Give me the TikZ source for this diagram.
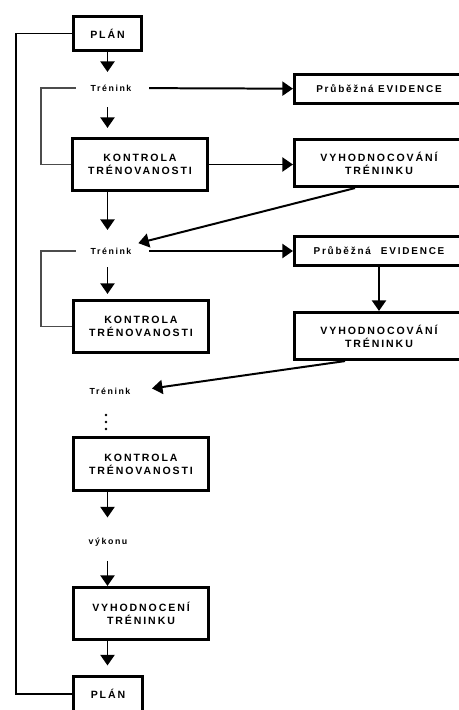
\documentclass[tikz,border=0pt]{standalone}
\usepackage{fontspec}
\setmainfont{Liberation Sans}[LetterSpace=18]
\usetikzlibrary{arrows.meta}

\begin{document}
\begin{tikzpicture}[x=0.03cm, y=-0.03cm,
  box/.style={draw, line width=2.4pt, fill=white, align=center, inner sep=0pt,
    font=\bfseries\fontsize{9}{11}\selectfont},
  planbox/.style={box, minimum width=2.05cm, minimum height=1.03cm},
  kontrbox/.style={box, minimum width=4.06cm, minimum height=1.57cm},
  evidbox/.style={box, minimum width=5.08cm, minimum height=0.88cm,
    font=\bfseries\fontsize{8.5}{10}\selectfont},
  vyhodbox/.style={box, minimum width=5.08cm, minimum height=1.42cm},
  txt/.style={inner sep=3pt, font=\bfseries\fontsize{7.5}{9}\selectfont},
  arr/.style={-{Triangle[width=12pt,length=9pt]}, line width=1.7pt},
  bracket/.style={line width=1.3pt, black!70}]
\useasboundingbox (0,0) rectangle (459,710);
\clip (0,0) rectangle (459,710);

\node[planbox] (plan1) at (107.5,33.5) {PLÁN};
\node[txt] (trenink1) at (111,88) {Trénink};
\node[evidbox] (evid1) at (379,89) {Průběžná EVIDENCE};
\node[kontrbox] (kontr1) at (140,164.5) {KONTROLA\\TRÉNOVANOSTI};
\node[vyhodbox] (vyhod1) at (379,163) {VYHODNOCOVÁNÍ\\TRÉNINKU};
\node[txt] (trenink2) at (111,251) {Trénink};
\node[evidbox] (evid2) at (379,251) {Průběžná\quad EVIDENCE};
\node[kontrbox] (kontr2) at (141,326.5) {KONTROLA\\TRÉNOVANOSTI};
\node[vyhodbox] (vyhod2) at (379,336) {VYHODNOCOVÁNÍ\\TRÉNINKU};
\node[txt] (trenink3) at (110,391) {Trénink};
\node[kontrbox] (kontr3) at (141,464) {KONTROLA\\TRÉNOVANOSTI};
\node[txt] (vykon) at (108,542) {výkonu};
\node[kontrbox] (vyhodnoc) at (141,613.5) {VYHODNOCENÍ\\TRÉNINKU};
\node[planbox] (plan2) at (108,694) {PLÁN};

\foreach \y in {415,422,429}
  \fill (106,\y) circle [radius=1.1pt];

\draw[line width=1.3pt] (plan1.west) -- ++(-56,0) |- (plan2.west);
\draw[bracket, shorten <=3.3mm] (trenink1.west) -- ++(-46,0) |- (kontr1.west);
\draw[bracket, shorten <=3.3mm] (trenink2.west) -- ++(-46,0) |- (kontr2.west);

\draw[arr, shorten >=2.7mm] (plan1) -- (trenink1.north -| plan1);
\draw[arr, shorten <=3.6mm, shorten >=2.7mm] (trenink1.south -| plan1) -- (kontr1.north -| plan1);
\draw[arr, shorten >=4.2mm] (kontr1.south -| plan1) -- (trenink2.north -| plan1);
\draw[arr, shorten <=2.7mm, shorten >=1.5mm] (trenink2.south -| plan1) -- (kontr2.north -| plan1);
\draw[arr, shorten >=5mm] (kontr3.south -| plan1) -- (vykon.north -| plan1);
\draw[arr, shorten <=3.3mm] (vykon.south -| plan1) -- (vyhodnoc.north -| plan1);
\draw[arr, shorten >=3mm] (vyhodnoc.south -| plan1) -- (plan2.north -| plan1);

\draw[arr, shorten <=4.2mm] (trenink1) -- (evid1);
\draw[arr] (kontr1.east) -- (vyhod1.west |- kontr1.east);
\draw[arr, shorten <=4.2mm] (trenink2) -- (evid2);
\draw[arr] (evid2) -- (vyhod2);
\draw[arr, shorten >=1mm] ([xshift=-0.72cm]vyhod1.south) -- (trenink2.north east);
\draw[arr, shorten >=5.4mm] ([xshift=-1.02cm]vyhod2.south) -- (trenink3.east);
\end{tikzpicture}
\end{document}
